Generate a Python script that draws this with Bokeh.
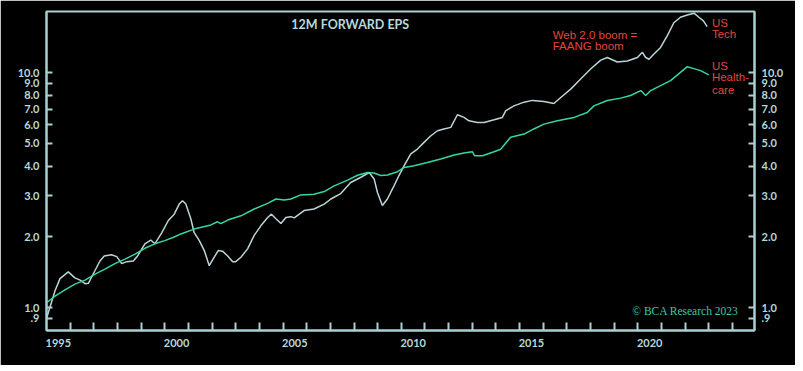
from bokeh.plotting import figure
from bokeh.models import (Range1d, LogAxis, LinearAxis, FixedTicker,
                          CustomJSTickFormatter, Label)
from bokeh.embed import file_html
from bokeh.resources import INLINE

# ---- data ----
tech_x = [1995.0, 1995.1, 1995.36, 1995.57, 1995.92, 1996.2, 1996.42, 1996.63, 1996.77,
          1997.05, 1997.26, 1997.44, 1997.75, 1997.97, 1998.18, 1998.39, 1998.67, 1998.85,
          1999.16, 1999.41, 1999.58, 1999.87, 2000.15, 2000.4, 2000.61, 2000.75, 2000.89,
          2001.1, 2001.24, 2001.46, 2001.67, 2001.88, 2002.09, 2002.26, 2002.44, 2002.66,
          2002.87, 2003.0, 2003.22, 2003.5, 2003.78, 2004.06, 2004.35, 2004.51, 2004.7,
          2004.91, 2005.12, 2005.33, 2005.47, 2005.89, 2006.31, 2006.74, 2007.02, 2007.44,
          2007.86, 2008.29, 2008.64, 2008.85, 2008.99, 2009.2, 2009.41, 2009.69, 2009.9,
          2010.12, 2010.4, 2010.68, 2010.96, 2011.25, 2011.53, 2011.8, 2012.09, 2012.37,
          2012.65, 2012.86, 2013.22, 2013.5, 2013.92, 2014.27, 2014.41, 2014.76, 2015.19,
          2015.54, 2016.03, 2016.45, 2016.74, 2017.16, 2017.58, 2018.0, 2018.43, 2018.71,
          2019.13, 2019.55, 2019.98, 2020.19, 2020.33, 2020.47, 2020.68, 2020.96, 2021.25,
          2021.52, 2021.8, 2022.09, 2022.37, 2022.58, 2022.77, 2022.93]
tech_eps = [0.90, 0.97, 1.18, 1.33, 1.42, 1.34, 1.31, 1.265, 1.27,
            1.44, 1.58, 1.66, 1.68, 1.65, 1.54, 1.57, 1.58, 1.66,
            1.87, 1.94, 1.87, 2.08, 2.35, 2.50, 2.76, 2.85, 2.76,
            2.39, 2.09, 1.93, 1.75, 1.51, 1.64, 1.75, 1.74, 1.66,
            1.57, 1.57, 1.64, 1.78, 2.03, 2.23, 2.42, 2.50, 2.39,
            2.28, 2.42, 2.44, 2.41, 2.59, 2.63, 2.76, 2.90, 3.06,
            3.41, 3.59, 3.76, 3.53, 3.09, 2.72, 2.90, 3.30, 3.65,
            4.02, 4.51, 4.73, 5.05, 5.39, 5.66, 5.76, 5.85, 6.62,
            6.45, 6.24, 6.14, 6.14, 6.30, 6.45, 6.88, 7.22, 7.49,
            7.62, 7.53, 7.39, 7.84, 8.51, 9.39, 10.36, 11.3, 11.6,
            11.1, 11.2, 11.6, 12.2, 11.6, 11.4, 12.0, 12.8, 14.4,
            16.3, 17.2, 17.6, 17.9, 17.2, 16.6, 15.7]

hc_x = [1995.0, 1995.36, 1995.78, 1996.2, 1996.63, 1997.05, 1997.47, 1997.89, 1998.32,
        1998.74, 1999.16, 1999.58, 2000.0, 2000.4, 2000.68, 2001.24, 2001.95, 2002.23,
        2002.37, 2002.66, 2003.22, 2003.78, 2004.35, 2004.7, 2005.05, 2005.33, 2005.75,
        2006.31, 2006.74, 2007.16, 2007.73, 2008.15, 2008.57, 2008.85, 2009.13, 2009.41,
        2009.84, 2010.12, 2010.54, 2011.1, 2011.67, 2012.23, 2012.65, 2013.0, 2013.1,
        2013.43, 2013.92, 2014.2, 2014.62, 2015.19, 2015.6, 2016.03, 2016.6, 2017.3,
        2017.86, 2018.14, 2018.71, 2019.27, 2019.69, 2020.12, 2020.33, 2020.54, 2020.96,
        2021.38, 2021.8, 2022.09, 2022.37, 2022.65, 2023.0]
hc_eps = [1.05, 1.12, 1.19, 1.26, 1.31, 1.39, 1.46, 1.54, 1.61,
          1.69, 1.79, 1.87, 1.93, 2.0, 2.06, 2.16, 2.25, 2.32,
          2.28, 2.36, 2.46, 2.63, 2.78, 2.90, 2.87, 2.90, 3.02,
          3.04, 3.12, 3.30, 3.49, 3.66, 3.76, 3.74, 3.65, 3.67,
          3.79, 3.95, 4.02, 4.15, 4.29, 4.46, 4.55, 4.61, 4.43,
          4.43, 4.61, 4.72, 5.31, 5.48, 5.76, 6.04, 6.24, 6.45,
          6.77, 7.22, 7.61, 7.79, 7.99, 8.39, 7.99, 8.39, 8.81,
          9.25, 10.02, 10.6, 10.4, 10.2, 9.78]

y_ticks = [0.9, 1, 2, 3, 4, 5, 6, 7, 8, 9, 10]
x_label_years = [1995, 2000, 2005, 2010, 2015, 2020]
x_minor_years = list(range(1996, 2025))

assert len(tech_x) == len(tech_eps) and len(hc_x) == len(hc_eps)

AX = "#a9cfd3"
TXT = "#b4d9dc"
RED = "#e4453d"
TECH_C = "#bcd3d7"
HC_C = "#35d6a6"

p = figure(width=795, height=365, x_range=Range1d(1995.0, 2024.93),
           y_range=Range1d(0.8, 18.2), y_axis_type="log",
           x_axis_location=None, y_axis_location=None,
           output_backend="svg", toolbar_location=None,
           background_fill_color="black", border_fill_color="black",
           min_border_left=46, min_border_right=41, min_border_top=11,
           min_border_bottom=35)
p.grid.visible = False
p.outline_line_color = AX
p.outline_line_width = 2

yfmt = CustomJSTickFormatter(code="return tick < 1 ? tick.toFixed(1).replace(/^0/, '') : tick.toFixed(1);")

def style_axis(ax):
    ax.axis_line_color = AX
    ax.axis_line_width = 2
    ax.major_tick_line_color = AX
    ax.major_tick_line_width = 2
    ax.minor_tick_line_color = AX
    ax.minor_tick_line_width = 2
    ax.major_label_text_color = TXT
    ax.major_label_text_font = "Lato"
    ax.major_label_text_font_style = "bold"
    ax.major_label_text_font_size = "11px"

for side in ("left", "right"):
    ax = LogAxis(ticker=FixedTicker(ticks=y_ticks, minor_ticks=[]), formatter=yfmt)
    style_axis(ax)
    ax.major_tick_in = 6
    ax.major_tick_out = 0
    ax.minor_tick_in = 0
    ax.minor_tick_out = 0
    ax.major_label_standoff = 7
    p.add_layout(ax, side)

xax = LinearAxis(ticker=FixedTicker(ticks=[y + 0.5 for y in x_label_years],
                                    minor_ticks=x_minor_years),
                 formatter=CustomJSTickFormatter(code="return Math.floor(tick).toString();"))
style_axis(xax)
xax.major_tick_in = 0
xax.major_tick_out = 0
xax.minor_tick_in = 8
xax.minor_tick_out = 0
xax.major_label_standoff = 8
p.add_layout(xax, "below")

p.line(tech_x, tech_eps, line_color=TECH_C, line_width=1.5)
p.line(hc_x, hc_eps, line_color=HC_C, line_width=1.5)

p.add_layout(Label(x=2007.84, y=16.1, text="12M FORWARD EPS", text_align="center",
                   text_baseline="middle", text_color=TXT, text_font="Lato",
                   text_font_style="bold", text_font_size="12.5px"))

def red(x, y, t, align="left"):
    p.add_layout(Label(x=x, y=y, text=t, text_align=align, text_baseline="middle",
                       text_color=RED, text_font="Liberation Sans",
                       text_font_size="11.5px"))

red(2016.40, 14.51, "Web 2.0 boom =")
red(2016.40, 12.94, "FAANG boom")
red(2023.13, 16.27, "US")
red(2023.13, 14.61, "Tech")
red(2023.13, 10.71, "US")
red(2023.13, 9.55, "Health-")
red(2023.13, 8.44, "care")

p.add_layout(Label(x=2024.25, y=0.964, text="© BCA Research 2023", text_align="right",
                   text_baseline="middle", text_color="#3fcaa2",
                   text_font="Liberation Serif", text_font_size="11.5px"))

open("out.html", "w").write(file_html(p, INLINE))
